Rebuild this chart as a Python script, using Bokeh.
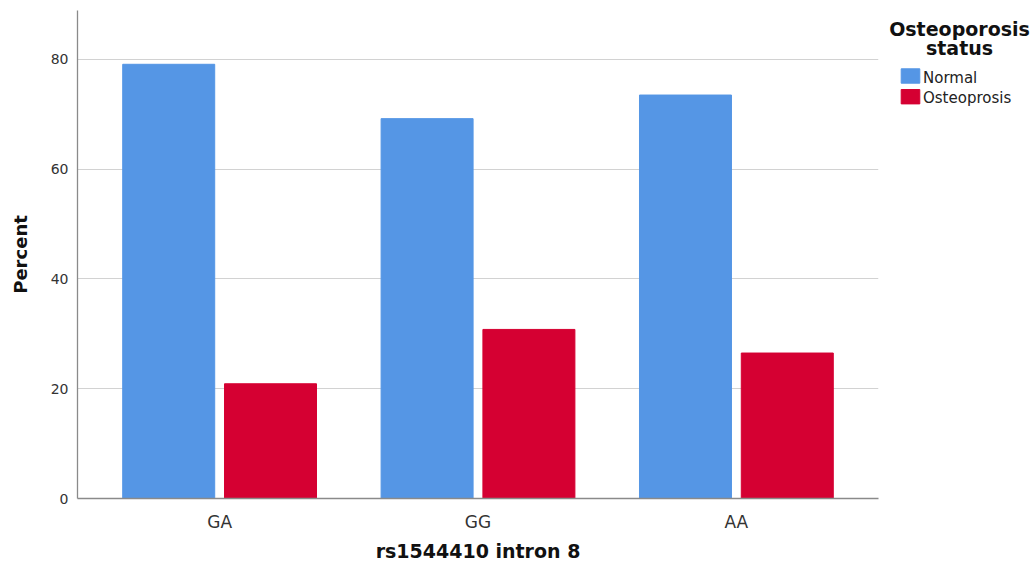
from bokeh.plotting import figure
from bokeh.layouts import row
from bokeh.models import Range1d, FixedTicker, Label, ColumnDataSource
from bokeh.embed import file_html
from bokeh.resources import INLINE

genotypes = ["GA", "GG", "AA"]
normal = [79.1, 69.2, 73.5]
osteoporosis = [20.9, 30.8, 26.5]
series_names = ["Normal", "Osteoprosis"]
legend_title = ["Osteoporosis", "status"]
y_ticks = [0, 20, 40, 60, 80]

BLUE = "#5596E5"
RED = "#D50032"
colors = [BLUE, RED]
FONT = "DejaVu Sans"
TOP, FH = 10, 488

xpos = list(range(len(genotypes)))
src = ColumnDataSource(dict(
    xn=[v - 0.197 for v in xpos],
    xo=[v + 0.197 for v in xpos],
    normal=normal,
    osteo=osteoporosis,
))

p = figure(frame_width=801, frame_height=FH, output_backend="svg",
           toolbar_location=None,
           x_range=Range1d(-0.55, 2.55), y_range=Range1d(0, 88.9),
           min_border_left=77, min_border_right=2, min_border_top=TOP,
           min_border_bottom=0)
p.outline_line_color = None

p.vbar(x="xn", top="normal", width=0.356, source=src,
       fill_color=colors[0], line_color=colors[0])
p.vbar(x="xo", top="osteo", width=0.356, source=src,
       fill_color=colors[1], line_color=colors[1])

p.xgrid.grid_line_color = None
p.ygrid.grid_line_color = "#d2d2d2"
p.ygrid.ticker = FixedTicker(ticks=y_ticks[1:])

p.yaxis.ticker = FixedTicker(ticks=y_ticks)
p.xaxis.ticker = FixedTicker(ticks=xpos)
p.xaxis.major_label_overrides = {i: g for i, g in enumerate(genotypes)}

for ax in (p.xaxis[0], p.yaxis[0]):
    ax.axis_line_color = "#8a8a8a"
    ax.axis_line_width = 1.3
    ax.major_tick_line_color = None
    ax.minor_tick_line_color = None
    ax.major_tick_out = 0
    ax.major_tick_in = 0
    ax.minor_tick_out = 0
    ax.major_label_text_font = FONT
    ax.major_label_text_color = "#333333"
    ax.axis_label_text_font = FONT
    ax.axis_label_text_font_style = "bold"
    ax.axis_label_text_color = "#111111"

p.yaxis.major_label_text_font_size = "14px"
p.yaxis.major_label_standoff = 9
p.yaxis.axis_label = "Percent"
p.yaxis.axis_label_text_font_size = "18px"
p.yaxis.axis_label_standoff = 17
p.xaxis.major_label_text_font_size = "17px"
p.xaxis.major_label_standoff = 13
p.xaxis.axis_label = "rs1544410 intron 8"
p.xaxis.axis_label_text_font_size = "19px"
p.xaxis.axis_label_standoff = 5

# legend panel: coordinates equal page pixels (y downward), same frame rows
lg = figure(frame_width=150, frame_height=FH, output_backend="svg",
            toolbar_location=None,
            x_range=Range1d(880, 1030), y_range=Range1d(TOP + FH, TOP),
            x_axis_type=None, y_axis_type=None,
            min_border_left=0, min_border_right=0, min_border_top=TOP,
            min_border_bottom=0)
lg.outline_line_color = None
lg.xgrid.visible = False
lg.ygrid.visible = False

for txt, yv in zip(legend_title, (28.5, 47.5)):
    lg.add_layout(Label(x=959, y=yv, text=txt, text_align="center",
                        text_baseline="middle", text_font=FONT,
                        text_font_style="bold", text_font_size="19px",
                        text_color="#111111"))

item_y = [75.5, 96.2]
lg.rect(x=[910, 910], y=item_y, width=18.6, height=14.4,
        fill_color=colors, line_color=colors)
lg.text(x=[922.5, 922.5], y=[v + 1.6 for v in item_y], text=series_names,
        text_baseline="middle", text_align="left",
        text_font={"value": FONT}, text_font_size="15px",
        text_color="#222222")

layout = row(p, lg)
open("out.html", "w").write(file_html(layout, INLINE))
